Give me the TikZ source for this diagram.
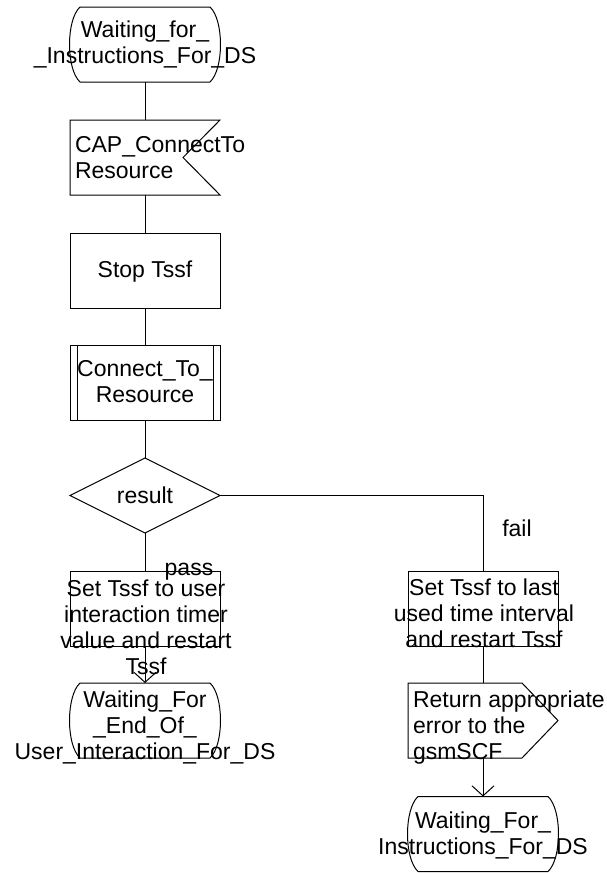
\documentclass[tikz,border=0pt]{standalone}
\usepackage{fontspec}
\setmainfont{Liberation Sans}
\usetikzlibrary{shapes.geometric,arrows.meta}
\newcommand\statepath[1]{%
  \draw[conn] ([xshift=10pt]#1.north west) -- ([xshift=-10pt]#1.north east)
    .. controls ([xshift=4pt,yshift=-13pt]#1.north east) and ([xshift=4pt,yshift=13pt]#1.south east) .. ([xshift=-10pt]#1.south east)
    -- ([xshift=10pt]#1.south west)
    .. controls ([xshift=-4pt,yshift=13pt]#1.south west) and ([xshift=-4pt,yshift=-13pt]#1.north west) .. cycle;}
\begin{document}
\begin{tikzpicture}[x=1pt,y=-1pt,
  conn/.style={line width=1pt, draw=black},
  box/.style={conn, minimum width=150pt, minimum height=75pt, inner sep=0pt, outer sep=0pt},
  frame/.style={draw=none, minimum width=150pt, minimum height=75pt, inner sep=0pt, outer sep=0pt},
  dec/.style={conn, shape=diamond, aspect=2, minimum width=150pt, minimum height=75pt, inner sep=0pt, outer sep=0pt},
  txt/.style={inner sep=0pt, outer sep=0pt, font=\fontsize{23}{26}\selectfont, align=center},
  ltxt/.style={txt, align=left, anchor=west},
  arr/.style={conn, -{Straight Barb[length=10pt,width=22pt]}}]
\useasboundingbox (0,0) rectangle (607,873);
% shapes
\node[frame] (s1) at (145,44.5) {};
\statepath{s1}
\node[frame] (i1) at (145,157.5) {};
\draw[conn] (i1.north west) -- (i1.north east) -- ([xshift=-37pt]i1.east) -- (i1.south east) -- (i1.south west) -- cycle;
\node[box] (b1) at (145,270.5) {};
\node[box] (p1) at (145,382.5) {};
\draw[conn] ([xshift=7pt]p1.north west) -- ([xshift=7pt]p1.south west);
\draw[conn] ([xshift=-7pt]p1.north east) -- ([xshift=-7pt]p1.south east);
\node[dec] (d1) at (145,495.5) {};
\node[box] (b2) at (145,609) {};
\node[box] (b3) at (483,608.5) {};
\node[frame] (o1) at (483,720.5) {};
\draw[conn] (o1.north west) -- ([xshift=-36pt]o1.north east) -- (o1.east) -- ([xshift=-36pt]o1.south east) -- (o1.south west) -- cycle;
\node[frame] (s2) at (145,720.5) {};
\statepath{s2}
\node[frame] (s3) at (483,834) {};
\statepath{s3}
% connectors
\draw[conn] (s1.south) -- (i1.north);
\draw[conn] (i1.south) -- (b1.north);
\draw[conn] (b1.south) -- (p1.north);
\draw[conn] (p1.south) -- (d1.north);
\draw[conn] (d1.east) -| (b3.north);
\draw[conn] (d1.south) -- (b2.north);
\draw[arr] (b2.south) -- (s2.north);
\draw[conn] (b3.south) -- (o1.north);
\draw[arr] (o1.south) -- (s3.north);
% texts
\node[txt] (t1) at (145,44.8) {\strut Waiting\_for\_\\\strut \_Instructions\_For\_DS};
\node[ltxt] (t2) at (75,160) {\strut CAP\_ConnectTo\\\strut Resource};
\node[txt] (t3) at (145,272) {\strut Stop Tssf};
\node[txt] (t4) at (145,384) {\strut Connect\_To\_\\\strut Resource};
\node[txt] (t5) at (145,498) {\strut result};
\node[txt] (t6) at (189,570) {\strut pass};
\node[txt] (t7) at (517,531) {\strut fail};
\node[txt] (t8) at (146,630) {\strut Set Tssf to user\\\strut interaction timer\\\strut value and restart\\\strut Tssf};
\node[txt] (t9) at (484,616) {\strut Set Tssf to last\\\strut used time interval\\\strut and restart Tssf};
\node[ltxt] (t10) at (413,728) {\strut Return appropriate\\\strut error to the\\\strut gsmSCF};
\node[txt] (t11) at (145,728) {\strut Waiting\_For\\\strut \_End\_Of\_\\\strut User\_Interaction\_For\_DS};
\node[txt] (t12) at (483,836) {\strut Waiting\_For\_\\\strut Instructions\_For\_DS};
\end{tikzpicture}
\end{document}
